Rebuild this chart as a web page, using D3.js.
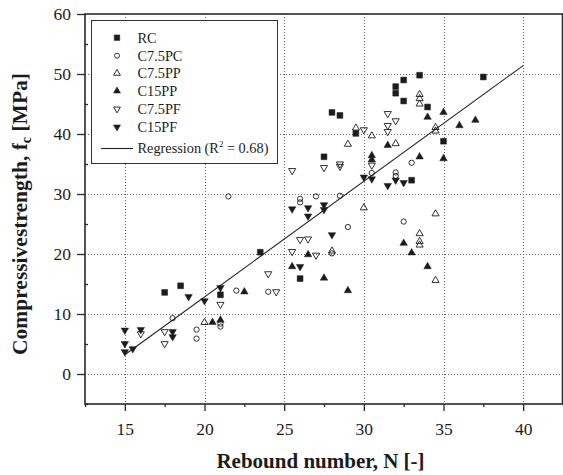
<!DOCTYPE html>
<html><head><meta charset="utf-8">
<script src="https://cdn.jsdelivr.net/npm/d3@7"></script>
<style>body{margin:0;background:#fff}svg{display:block}</style>
</head><body>
<svg id="chart" width="563" height="475"></svg>
<script>
// ---------- data ----------
const seriesNames = ["RC", "C7.5PC", "C7.5PP", "C15PP", "C7.5PF", "C15PF"];

const rcPoints = [[17.5,13.6],[18.5,14.7],[21,13.2],[23.5,20.3],[26,15.9],[27.5,36.2],[28,43.6],[28.5,43.1],
  [29.5,40.1],[32,47.9],[32,46.8],[32.5,49.0],[32.5,45.5],[33,32.3],[33.5,49.8],[34,44.5],[35,38.8],[37.5,49.5]];
const c75pcPoints = [[18,9.3],[19.5,7.4],[19.5,5.9],[21,8.4],[21,7.9],[21.5,29.6],[22,13.9],[24,13.7],[26,29.2],
  [26,28.6],[27,29.6],[28,20.1],[28.5,29.7],[29,24.5],[30.5,33.5],[32,33.6],[32,33.0],[32.5,25.4],[33,35.2]];
const c75ppPoints = [[20,8.6],[28,20.5],[29,38.3],[29.5,41.0],[30,27.7],[30.5,39.7],[32,38.4],[33.5,46.6],
  [33.5,45.9],[33.5,45.0],[33.5,23.4],[33.5,22.1],[33.5,21.5],[34.5,41.1],[34.5,40.5],[34.5,26.7],[34.5,15.6]];
const c15ppPoints = [[20.5,8.6],[21,9.0],[22.5,13.7],[25.5,17.9],[26.5,19.9],[27.5,16.0],[29,13.9],[30.5,36.4],
  [30.5,35.7],[31.5,38.1],[32.5,21.8],[33,20.2],[33.5,36.2],[34,42.8],[34,17.9],[35,43.6],[35,35.9],[36,41.4],[37,42.3]];
const c75pfPoints = [[16,6.7],[17.5,7.05],[17.5,5.05],[21,11.6],[24,16.7],[24.5,13.7],[25.5,20.4],[25.5,33.9],
  [26,22.4],[26.5,22.5],[27,19.8],[27.5,34.4],[28.5,34.6],[28.5,35.0],[30,40.7],[30.5,34.8],[31.5,43.4],
  [31.5,41.4],[31.5,40.4],[32,42.2]];
const c15pfPoints = [[15,7.3],[15,5.05],[15,3.7],[15.5,4.2],[16,7.4],[18,7.05],[18,6.2],[19,12.9],[20,12.2],
  [21,14.4],[25.5,27.5],[26,17.9],[26.5,27.7],[26.5,26.3],[27.5,28.2],[27.5,27.4],[28,23.2],[30,32.8],
  [30.5,32.5],[31.5,31.4],[32,32.3],[32.5,31.9]];

const regressionIntercept = -25.72;
const regressionSlope = 1.928;
const regressionRange = [15, 40];
const regressionLabel = "0.68";

const xTicks = [15, 20, 25, 30, 35, 40];
const xMinorTicks = [12.5, 17.5, 22.5, 27.5, 32.5, 37.5, 42.5];
const yTicks = [0, 10, 20, 30, 40, 50, 60];
const yMinorTicks = [-5, 5, 15, 25, 35, 45, 55];

// ---------- chart ----------
const allSeries = [rcPoints, c75pcPoints, c75ppPoints, c15ppPoints, c75pfPoints, c15pfPoints];
const ink = "#1c1c1c";
const font = "'Liberation Serif','Times New Roman',serif";
const markerStyle = [
  {type: d3.symbolSquare, size: 34, fill: ink, rot: 0},
  {type: d3.symbolCircle, size: 22, fill: "none", rot: 0},
  {type: d3.symbolTriangle, size: 22, fill: "none", rot: 0},
  {type: d3.symbolTriangle, size: 24, fill: ink, rot: 0},
  {type: d3.symbolTriangle, size: 22, fill: "none", rot: 180},
  {type: d3.symbolTriangle, size: 24, fill: ink, rot: 180}
];

const svg = d3.select("#chart");
const x = d3.scaleLinear().domain([12.5, 42.5]).range([85, 563]);
const y = d3.scaleLinear().domain([-5, 60]).range([404, 14]);

// grid
const grid = svg.append("g").attr("stroke", "#666").attr("stroke-width", 1).attr("stroke-dasharray", "1,2");
grid.selectAll("line.gx").data(xTicks).join("line").attr("class", "gx")
  .attr("x1", d => Math.round(x(d)) + 0.5).attr("x2", d => Math.round(x(d)) + 0.5)
  .attr("y1", y(60)).attr("y2", y(-5));
grid.selectAll("line.gy").data(yTicks.filter(d => d < 60)).join("line").attr("class", "gy")
  .attr("y1", d => Math.round(y(d)) + 0.5).attr("y2", d => Math.round(y(d)) + 0.5)
  .attr("x1", x(12.5)).attr("x2", x(42.5));

// axes
const xAxis = svg.append("g").attr("transform", `translate(0,${y(-5)})`)
  .call(d3.axisBottom(x).tickValues(xTicks).tickSize(7).tickPadding(12).tickFormat(d3.format("d")));
const xMinor = svg.append("g").attr("transform", `translate(0,${y(-5)})`)
  .call(d3.axisBottom(x).tickValues(xMinorTicks).tickSize(3).tickFormat(""));
const yAxis = svg.append("g").attr("transform", `translate(${x(12.5)},0)`)
  .call(d3.axisLeft(y).tickValues(yTicks).tickSize(8).tickPadding(6).tickFormat(d3.format("d")));
const yMinor = svg.append("g").attr("transform", `translate(${x(12.5)},0)`)
  .call(d3.axisRight(y).tickValues(yMinorTicks).tickSize(3).tickFormat(""));
[xAxis, xMinor, yAxis, yMinor].forEach(g => {
  g.select(".domain").remove();
  g.selectAll(".tick line").attr("stroke", "#2a2a2a").attr("stroke-width", 1.3);
  g.selectAll(".tick text").attr("font-family", font).attr("font-size", 17.5).attr("fill", ink);
});

// frame
svg.append("rect").attr("x", x(12.5)).attr("y", y(60))
  .attr("width", x(42.5) - x(12.5) - 0.5).attr("height", y(-5) - y(60))
  .attr("fill", "none").attr("stroke", "#2a2a2a").attr("stroke-width", 1.6);

// regression line
svg.append("line")
  .attr("x1", x(regressionRange[0])).attr("y1", y(regressionIntercept + regressionSlope * regressionRange[0]))
  .attr("x2", x(regressionRange[1])).attr("y2", y(regressionIntercept + regressionSlope * regressionRange[1]))
  .attr("stroke", "#222").attr("stroke-width", 1.1);

// points
function drawMarkers(g, pts, st) {
  const sym = d3.symbol().type(st.type).size(st.size);
  g.selectAll("path").data(pts).join("path")
    .attr("d", sym)
    .attr("transform", d => `translate(${x(d[0])},${y(d[1])}) rotate(${st.rot})`)
    .attr("fill", st.fill === "none" ? "#fff" : st.fill)
    .attr("fill-opacity", st.fill === "none" ? 0 : 1)
    .attr("stroke", ink).attr("stroke-width", st.fill === "none" ? 0.9 : 0.5);
}
allSeries.forEach((pts, i) => drawMarkers(svg.append("g"), pts, markerStyle[i]));

// legend
const lg = svg.append("g");
lg.append("rect").attr("x", 91.5).attr("y", 20.5).attr("width", 186).attr("height", 143)
  .attr("fill", "#fff").attr("stroke", "#333").attr("stroke-width", 1);
const rowY = [37.7, 55.7, 73.3, 91, 109, 127];
seriesNames.forEach((name, i) => {
  const st = markerStyle[i];
  const sym = d3.symbol().type(st.type).size(st.size * 0.9);
  lg.append("path").attr("d", sym)
    .attr("transform", `translate(117,${rowY[i]}) rotate(${st.rot})`)
    .attr("fill", st.fill === "none" ? "none" : st.fill)
    .attr("stroke", ink).attr("stroke-width", st.fill === "none" ? 0.9 : 0.5);
  lg.append("text").attr("x", 137.5).attr("y", rowY[i]).attr("dy", "0.34em")
    .attr("font-family", font).attr("font-size", 14.3).attr("fill", ink).text(name);
});
lg.append("line").attr("x1", 101).attr("x2", 133).attr("y1", 148.5).attr("y2", 148.5)
  .attr("stroke", "#222").attr("stroke-width", 1.1);
const rt = lg.append("text").attr("x", 137.5).attr("y", 148.5).attr("dy", "0.34em")
  .attr("font-family", font).attr("font-size", 14.3).attr("fill", ink);
rt.append("tspan").text("Regression (R");
rt.append("tspan").attr("font-size", 9).attr("dy", "-0.75em").text("2");
rt.append("tspan").attr("dy", "0.48em").text(` = ${regressionLabel})`);

// axis titles
svg.append("text").attr("x", 320.5).attr("y", 468).attr("text-anchor", "middle")
  .attr("font-family", font).attr("font-weight", "bold").attr("font-size", 21).attr("fill", ink)
  .text("Rebound number, N [-]");
const yt = svg.append("text").attr("transform", "translate(27,214) rotate(-90)").attr("text-anchor", "middle")
  .attr("font-family", font).attr("font-weight", "bold").attr("font-size", 21.5).attr("fill", ink);
yt.append("tspan").text("Compressivestrength, f");
yt.append("tspan").attr("font-size", 14).attr("dy", "0.3em").text("c");
yt.append("tspan").attr("dy", "-0.2em").text(" [MPa]");
</script>
</body></html>
